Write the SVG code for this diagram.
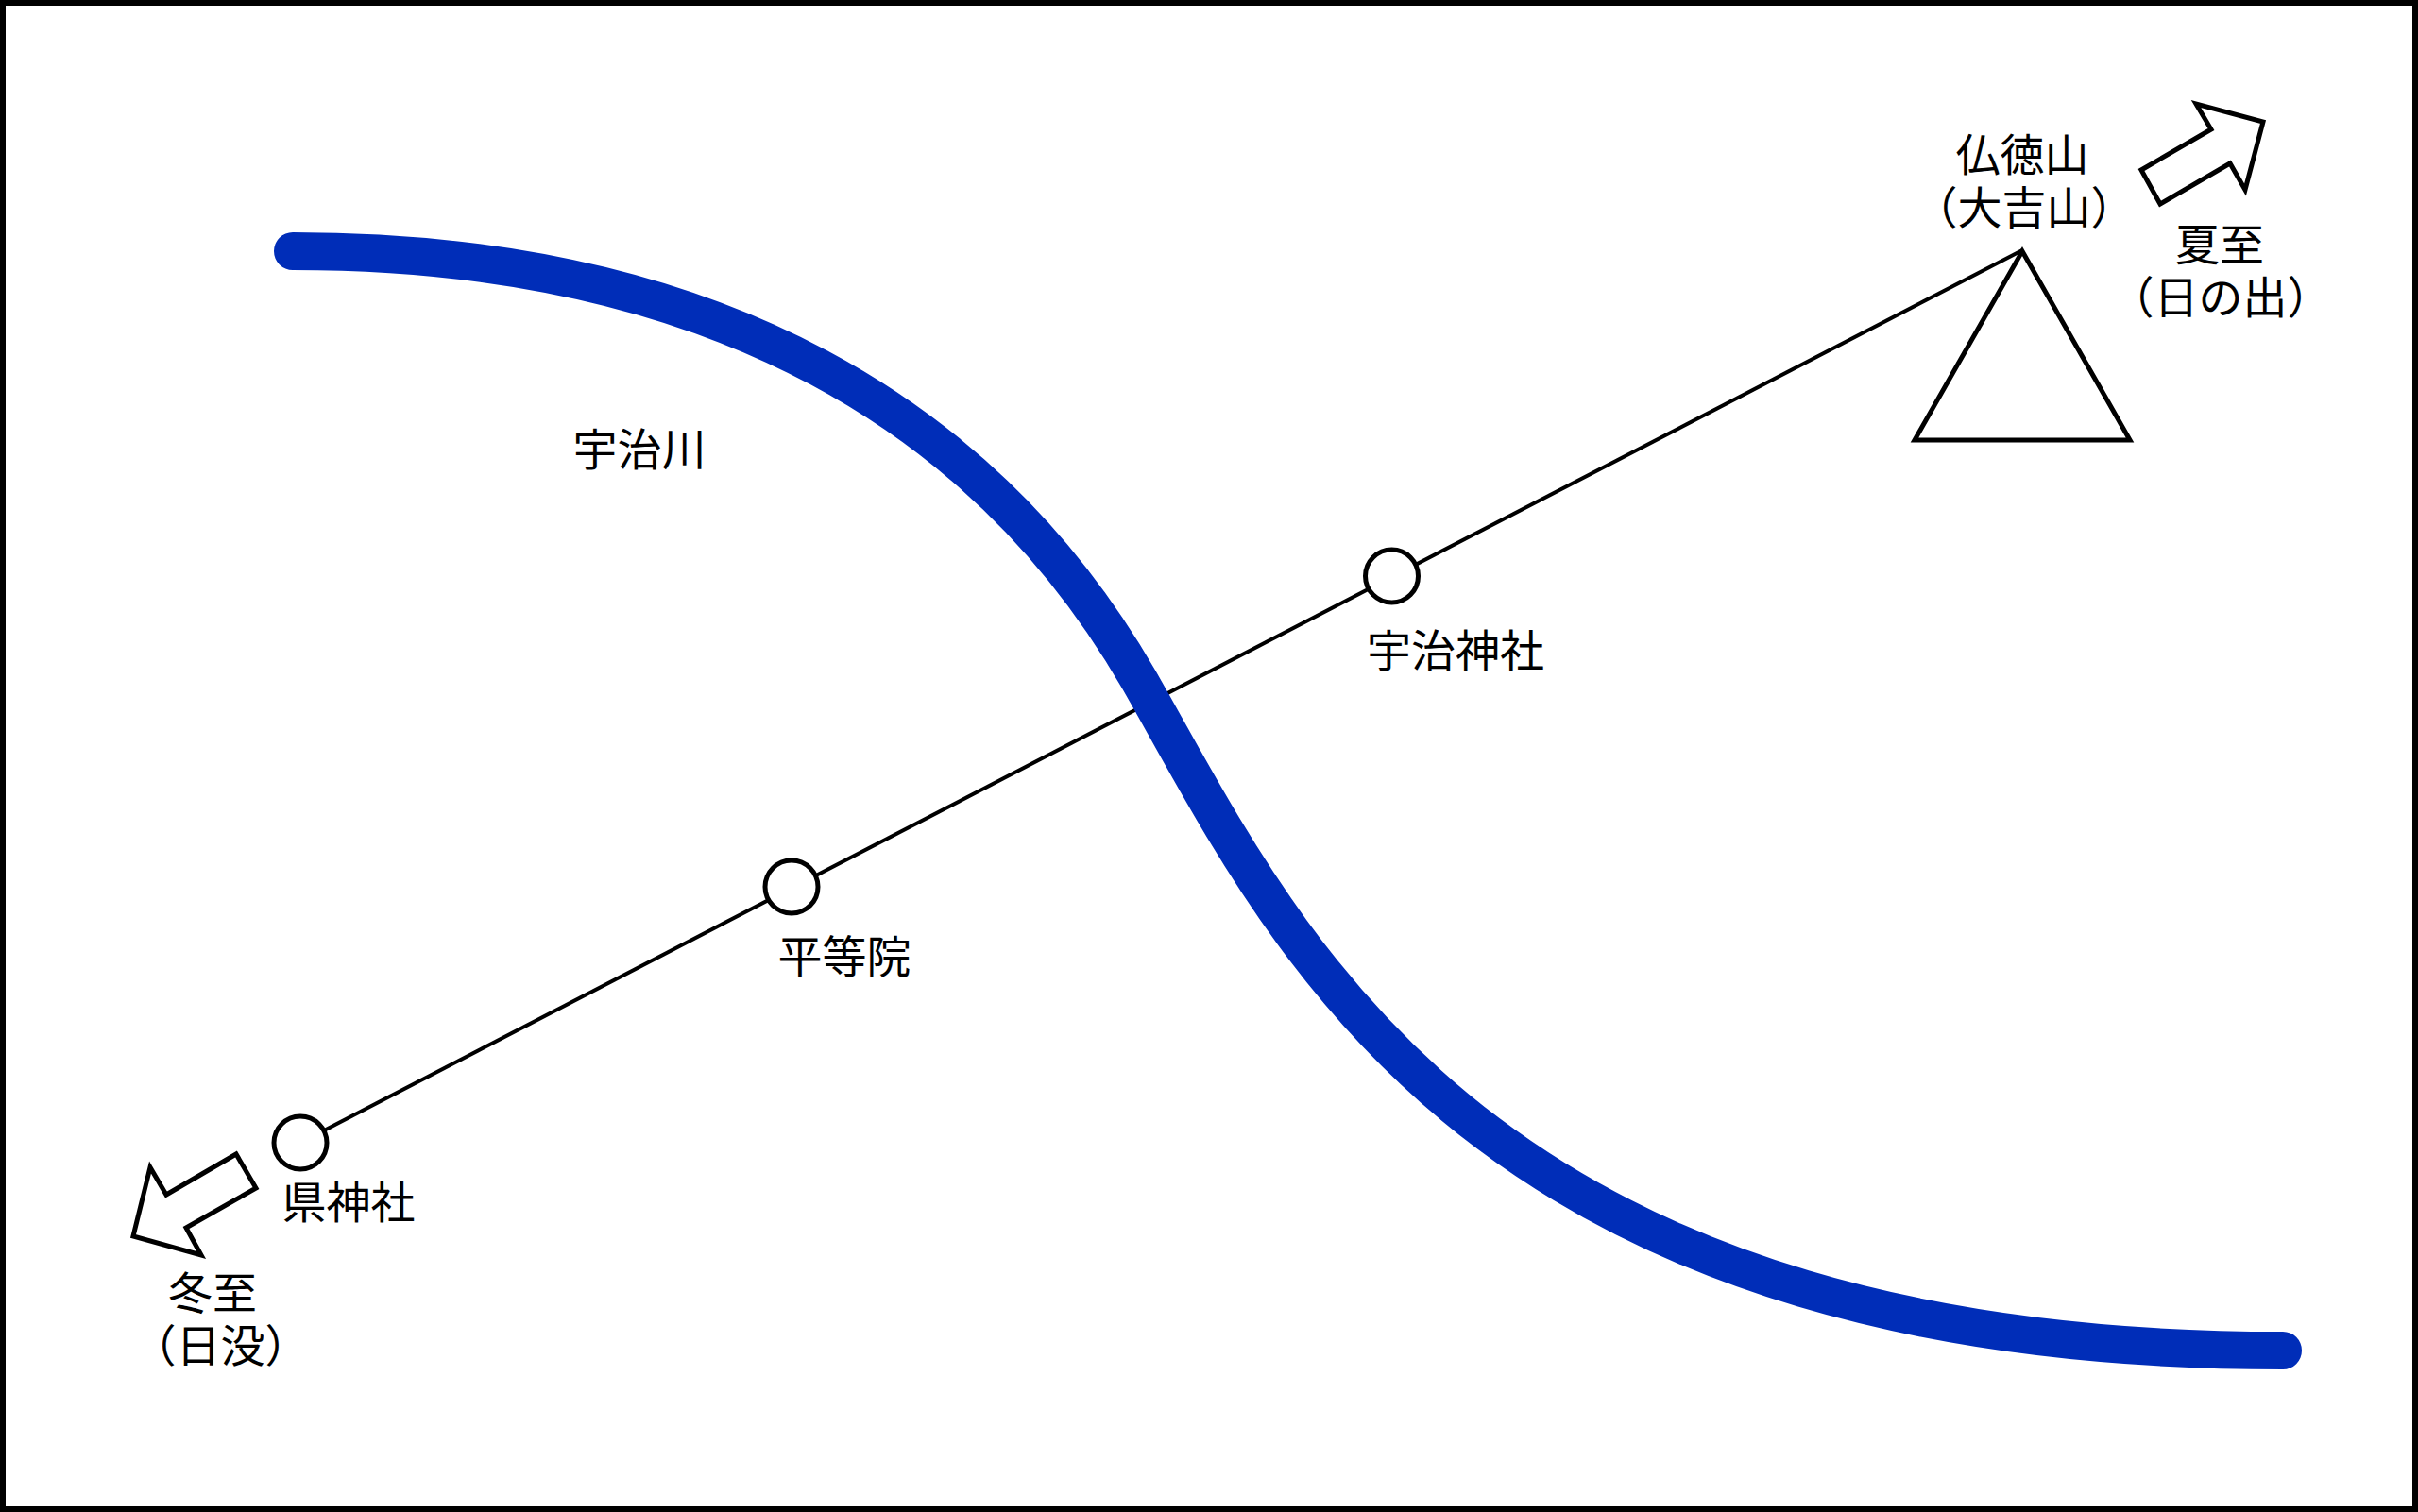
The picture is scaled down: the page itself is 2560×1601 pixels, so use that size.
<svg xmlns="http://www.w3.org/2000/svg" width="2560" height="1601" viewBox="0 0 2560 1601">
<style>
.s{fill:#fff;stroke:#000;stroke-width:5;stroke-miterlimit:10}
text{font-family:"Noto Sans CJK JP","Noto Sans",sans-serif;font-size:47px;fill:#000;text-anchor:middle}
</style>
<rect id="frame" x="3" y="3" width="2554" height="1595" fill="#fff" stroke="#000" stroke-width="6"/>
<g id="connectors">
<path d="M318 1210L2141 265" fill="none" stroke="#000" stroke-width="4"/>
</g>
<path id="river" d="M310 266C760 266 1046 443 1206 720C1356 982 1547 1430 2417 1430" fill="none" stroke="#002db8" stroke-width="40" stroke-linecap="round"/>
<g id="mountain"><path class="s" d="M2141 266L2255 466L2027 466Z"/><text x="2141" y="181">仏徳山</text><text x="2143" y="237">（大吉山）</text></g>
<g id="arrow-summer"><path class="s" d="M2267 180L2341 137L2325 110L2396 129L2377 201L2361 173L2287 216Z"/><text x="2350" y="276">夏至</text><text x="2351" y="332">（日の出）</text></g>
<g id="arrow-winter"><path class="s" d="M250 1222L176 1265L159 1236L141 1309L213 1329L197 1300L271 1258Z"/><text x="225" y="1386">冬至</text><text x="233.5" y="1442">（日没）</text></g>
<g id="ken-jinja"><circle class="s" cx="318" cy="1210" r="28"/><text x="369" y="1290">県神社</text></g>
<g id="byodoin"><circle class="s" cx="838" cy="939" r="28"/><text x="894" y="1030">平等院</text></g>
<g id="uji-jinja"><circle class="s" cx="1473.5" cy="610" r="28"/><text x="1541" y="706">宇治神社</text></g>
<g id="uji-river"><text x="677" y="493">宇治川</text></g>
</svg>
